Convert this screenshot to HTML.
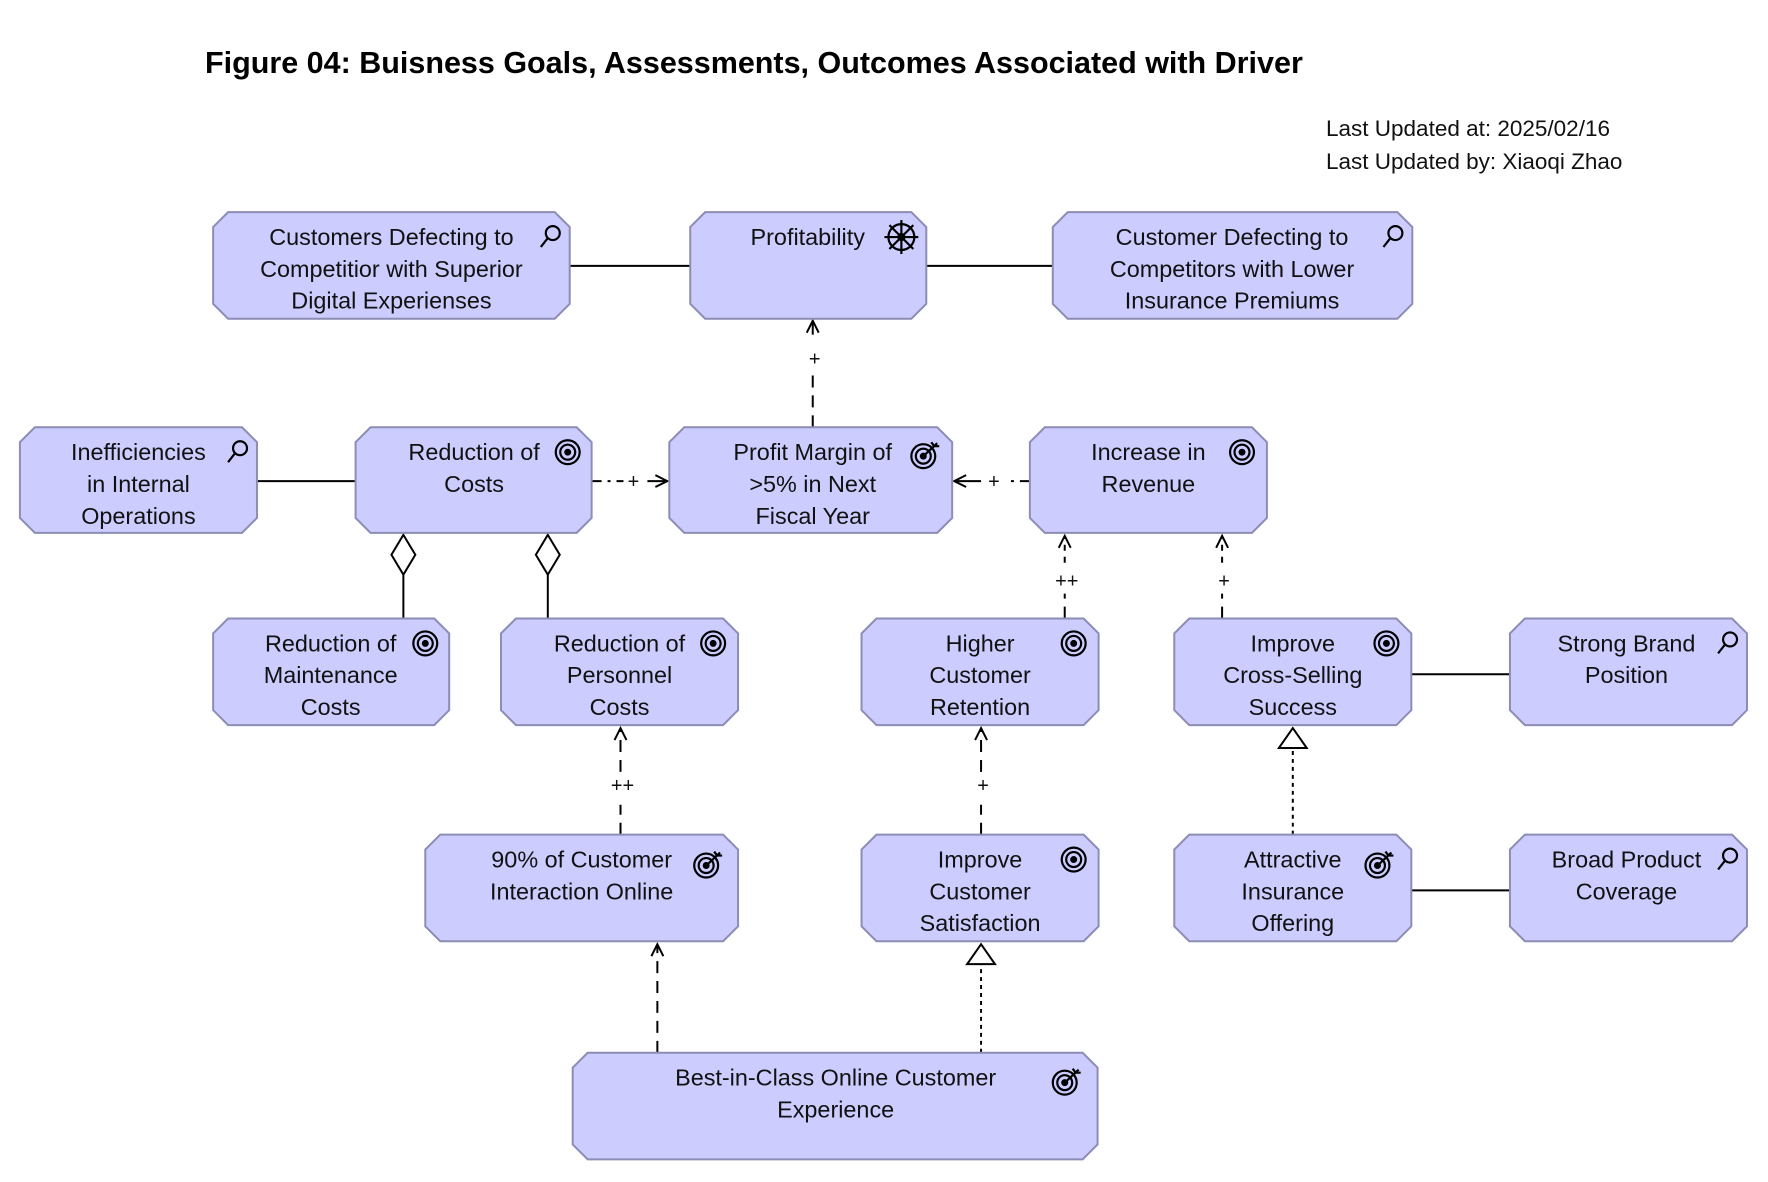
<!DOCTYPE html>
<html><head><meta charset="utf-8"><style>
html,body{margin:0;padding:0;background:#fff}
svg{display:block}
text{font-family:"Liberation Sans",sans-serif}
.bx{fill:#ccccff;stroke:#8c8cb4;stroke-width:2}
.t{font-size:23.5px;fill:#111;text-anchor:middle}
.l{font-size:20px;fill:#111;text-anchor:middle}
.ln{stroke:#000;stroke-width:2;fill:none}
.ic{stroke:#000;stroke-width:2.2;fill:none}
</style></head><body>
<svg width="1768" height="1182" viewBox="0 0 1768 1182" xmlns="http://www.w3.org/2000/svg">
<defs>
<symbol id="mag" viewBox="-15 -15 30 30" overflow="visible"><circle cx="3" cy="-3" r="7" class="ic"/><line x1="-2" y1="2" x2="-9" y2="11" class="ic"/></symbol>
<symbol id="goal" viewBox="-15 -15 30 30" overflow="visible"><circle r="12" class="ic"/><circle r="7.5" class="ic"/><circle r="3.5" fill="#000"/></symbol>
<symbol id="out" viewBox="-15 -15 30 30" overflow="visible"><circle r="12" class="ic"/><circle r="7.5" class="ic"/><circle r="3.5" fill="#000"/><line x1="0" y1="0" x2="14" y2="-13" class="ic" stroke-width="1.6"/><polyline points="8,-14 11,-10 16,-10" class="ic" stroke-width="1.6"/></symbol>
</defs>

<text x="205" y="73" style="font-size:30.5px;font-weight:bold" fill="#000">Figure 04: Buisness Goals, Assessments, Outcomes Associated with Driver</text>
<text x="1326" y="136" style="font-size:22.5px" fill="#111">Last Updated at: 2025/02/16</text>
<text x="1326" y="169" style="font-size:22.5px" fill="#111">Last Updated by: Xiaoqi Zhao</text>

<g transform="scale(0.996)">
<line x1="572" y1="267" x2="693" y2="267" class="ln"/>
<line x1="930" y1="267" x2="1057" y2="267" class="ln"/>
<line x1="258" y1="483" x2="357" y2="483" class="ln"/>
<line x1="1417" y1="677" x2="1516" y2="677" class="ln"/>
<line x1="1417" y1="894" x2="1516" y2="894" class="ln"/>
<line x1="816" y1="429" x2="816" y2="376" class="ln" stroke-dasharray="12,8"/>
<line x1="816" y1="336" x2="816" y2="322" class="ln"/>
<polyline points="810,334 816,322 822,334" class="ln"/>
<text x="818" y="367" class="l">+</text>
<line x1="594" y1="483" x2="626" y2="483" class="ln" stroke-dasharray="10,6,3,6"/>
<line x1="650" y1="483" x2="670" y2="483" class="ln"/>
<polyline points="658,477 670,483 658,489" class="ln"/>
<text x="636" y="490" class="l">+</text>
<line x1="1034" y1="483" x2="1010" y2="483" class="ln" stroke-dasharray="10,6,3,6"/>
<line x1="985" y1="483" x2="958" y2="483" class="ln"/>
<polyline points="970,477 958,483 970,489" class="ln"/>
<text x="998" y="490" class="l">+</text>
<polygon points="405,537 417,557 405,577 393,557" fill="#fff" stroke="#000" stroke-width="2"/>
<line x1="405" y1="577" x2="405" y2="621" class="ln"/>
<polygon points="550,537 562,557 550,577 538,557" fill="#fff" stroke="#000" stroke-width="2"/>
<line x1="550" y1="577" x2="550" y2="621" class="ln"/>
<line x1="1069" y1="621" x2="1069" y2="596" class="ln" stroke-dasharray="12,8"/>
<line x1="1069" y1="565" x2="1069" y2="538" class="ln" stroke-dasharray="6,6"/>
<polyline points="1063,550 1069,538 1075,550" class="ln"/>
<text x="1071" y="590" class="l">++</text>
<line x1="1227" y1="621" x2="1227" y2="596" class="ln" stroke-dasharray="12,8"/>
<line x1="1227" y1="565" x2="1227" y2="538" class="ln" stroke-dasharray="6,6"/>
<polyline points="1221,550 1227,538 1233,550" class="ln"/>
<text x="1229" y="590" class="l">+</text>
<line x1="623" y1="838" x2="623" y2="808" class="ln" stroke-dasharray="12,8"/>
<line x1="623" y1="775" x2="623" y2="731" class="ln" stroke-dasharray="12,8"/>
<polyline points="617,743 623,731 629,743" class="ln"/>
<text x="625" y="795" class="l">++</text>
<line x1="985" y1="838" x2="985" y2="808" class="ln" stroke-dasharray="12,8"/>
<line x1="985" y1="775" x2="985" y2="731" class="ln" stroke-dasharray="12,8"/>
<polyline points="979,743 985,731 991,743" class="ln"/>
<text x="987" y="795" class="l">+</text>
<line x1="1298" y1="838" x2="1298" y2="751" class="ln" stroke-dasharray="4,4"/>
<polygon points="1298,731 1312,751 1284,751" fill="#fff" stroke="#000" stroke-width="2"/>
<line x1="660" y1="1057" x2="660" y2="950" class="ln" stroke-dasharray="12,8"/>
<polyline points="654,960 660,948 666,960" class="ln"/>
<line x1="985" y1="1057" x2="985" y2="968" class="ln" stroke-dasharray="4,4"/>
<polygon points="985,948 999,968 971,968" fill="#fff" stroke="#000" stroke-width="2"/>

<polygon class="bx" points="229,213 557,213 572,228 572,305 557,320 229,320 214,305 214,228"/>
<text class="t" x="393" y="246">Customers Defecting to</text><text class="t" x="393" y="278">Competitior with Superior</text><text class="t" x="393" y="310">Digital Experienses</text>
<use href="#mag" x="537" y="222" width="30" height="30"/>

<polygon class="bx" points="708,213 915,213 930,228 930,305 915,320 708,320 693,305 693,228"/>
<text class="t" x="811" y="246">Profitability</text>
<g transform="translate(905,238)" class="ic"><circle r="13"/><circle r="3" fill="#000"/><line x1="-17" y1="0" x2="17" y2="0"/><line x1="0" y1="-17" x2="0" y2="17"/><line x1="-12" y1="-12" x2="12" y2="12"/><line x1="-12" y1="12" x2="12" y2="-12"/></g>

<polygon class="bx" points="1072,213 1403,213 1418,228 1418,305 1403,320 1072,320 1057,305 1057,228"/>
<text class="t" x="1237" y="246">Customer Defecting to</text><text class="t" x="1237" y="278">Competitors with Lower</text><text class="t" x="1237" y="310">Insurance Premiums</text>
<use href="#mag" x="1383" y="222" width="30" height="30"/>

<polygon class="bx" points="35,429 243,429 258,444 258,520 243,535 35,535 20,520 20,444"/>
<text class="t" x="139" y="462">Inefficiencies</text><text class="t" x="139" y="494">in Internal</text><text class="t" x="139" y="526">Operations</text>
<use href="#mag" x="223" y="438" width="30" height="30"/>

<polygon class="bx" points="372,429 579,429 594,444 594,520 579,535 372,535 357,520 357,444"/>
<text class="t" x="476" y="462">Reduction of</text><text class="t" x="476" y="494">Costs</text>
<use href="#goal" x="555" y="439" width="30" height="30"/>

<polygon class="bx" points="687,429 941,429 956,444 956,520 941,535 687,535 672,520 672,444"/>
<text class="t" x="816" y="462">Profit Margin of</text><text class="t" x="816" y="494">&gt;5% in Next</text><text class="t" x="816" y="526">Fiscal Year</text>
<use href="#out" x="912" y="443" width="30" height="30"/>

<polygon class="bx" points="1049,429 1257,429 1272,444 1272,520 1257,535 1049,535 1034,520 1034,444"/>
<text class="t" x="1153" y="462">Increase in</text><text class="t" x="1153" y="494">Revenue</text>
<use href="#goal" x="1232" y="439" width="30" height="30"/>

<polygon class="bx" points="229,621 436,621 451,636 451,713 436,728 229,728 214,713 214,636"/>
<text class="t" x="332" y="654">Reduction of</text><text class="t" x="332" y="686">Maintenance</text><text class="t" x="332" y="718">Costs</text>
<use href="#goal" x="412" y="631" width="30" height="30"/>

<polygon class="bx" points="518,621 726,621 741,636 741,713 726,728 518,728 503,713 503,636"/>
<text class="t" x="622" y="654">Reduction of</text><text class="t" x="622" y="686">Personnel</text><text class="t" x="622" y="718">Costs</text>
<use href="#goal" x="701" y="631" width="30" height="30"/>

<polygon class="bx" points="880,621 1088,621 1103,636 1103,713 1088,728 880,728 865,713 865,636"/>
<text class="t" x="984" y="654">Higher</text><text class="t" x="984" y="686">Customer</text><text class="t" x="984" y="718">Retention</text>
<use href="#goal" x="1063" y="631" width="30" height="30"/>

<polygon class="bx" points="1194,621 1402,621 1417,636 1417,713 1402,728 1194,728 1179,713 1179,636"/>
<text class="t" x="1298" y="654">Improve</text><text class="t" x="1298" y="686">Cross-Selling</text><text class="t" x="1298" y="718">Success</text>
<use href="#goal" x="1377" y="631" width="30" height="30"/>

<polygon class="bx" points="1531,621 1739,621 1754,636 1754,713 1739,728 1531,728 1516,713 1516,636"/>
<text class="t" x="1633" y="654">Strong Brand</text><text class="t" x="1633" y="686">Position</text>
<use href="#mag" x="1719" y="630" width="30" height="30"/>

<polygon class="bx" points="442,838 726,838 741,853 741,930 726,945 442,945 427,930 427,853"/>
<text class="t" x="584" y="871">90% of Customer</text><text class="t" x="584" y="903">Interaction Online</text>
<use href="#out" x="694" y="854" width="30" height="30"/>

<polygon class="bx" points="880,838 1088,838 1103,853 1103,930 1088,945 880,945 865,930 865,853"/>
<text class="t" x="984" y="871">Improve</text><text class="t" x="984" y="903">Customer</text><text class="t" x="984" y="935">Satisfaction</text>
<use href="#goal" x="1063" y="848" width="30" height="30"/>

<polygon class="bx" points="1194,838 1402,838 1417,853 1417,930 1402,945 1194,945 1179,930 1179,853"/>
<text class="t" x="1298" y="871">Attractive</text><text class="t" x="1298" y="903">Insurance</text><text class="t" x="1298" y="935">Offering</text>
<use href="#out" x="1368" y="854" width="30" height="30"/>

<polygon class="bx" points="1531,838 1739,838 1754,853 1754,930 1739,945 1531,945 1516,930 1516,853"/>
<text class="t" x="1633" y="871">Broad Product</text><text class="t" x="1633" y="903">Coverage</text>
<use href="#mag" x="1719" y="847" width="30" height="30"/>

<polygon class="bx" points="590,1057 1087,1057 1102,1072 1102,1149 1087,1164 590,1164 575,1149 575,1072"/>
<text class="t" x="839" y="1090">Best-in-Class Online Customer</text><text class="t" x="839" y="1122">Experience</text>
<use href="#out" x="1054" y="1072" width="30" height="30"/>
</g>
</svg>
</body></html>
